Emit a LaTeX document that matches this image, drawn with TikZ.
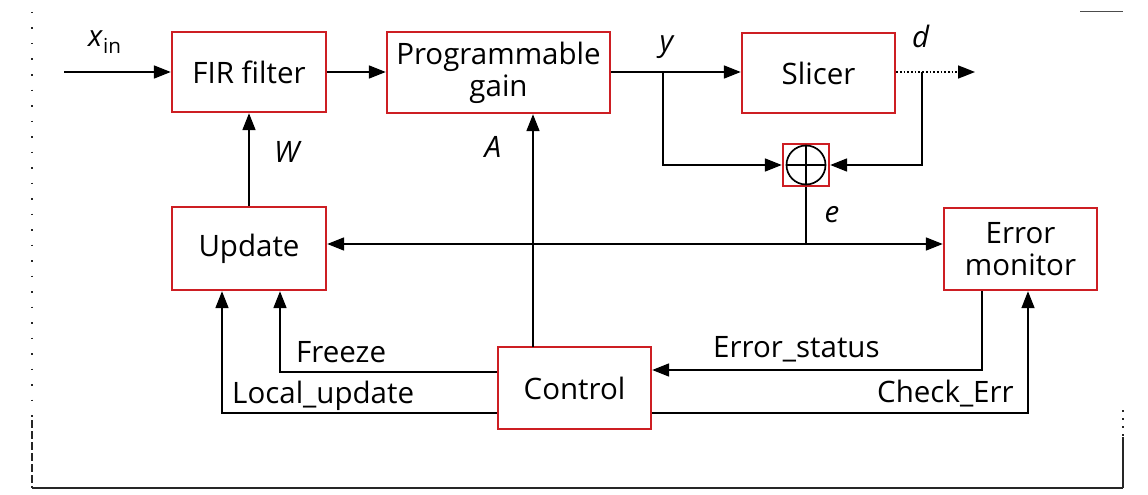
\documentclass[tikz,border=0pt]{standalone}
\usepackage{fontspec}
\setmainfont{Open Sans}
\usetikzlibrary{arrows.meta}
\definecolor{boxred}{RGB}{205,30,35}
\begin{document}
\begin{tikzpicture}[x=1pt,y=-1pt,
  every node/.style={font=\fontsize{29.5}{32}\selectfont},
  blk/.style={draw=boxred, line width=2.4pt, align=center, inner sep=0pt},
  conn/.style={line width=1.7pt, black},
  arr/.style={conn, -{Triangle[length=17pt,width=13pt]}},
  lbl/.style={inner sep=0pt},
  framel/.style={line width=1.4pt, black!85}]
\useasboundingbox (0,0) rectangle (1148,495);
% frame of the scan
\draw[framel] (32,488) -- (1123,488);
\draw[framel, dash pattern=on 1.5pt off 14pt] (32,12) -- (32,420);
\draw[framel, dash pattern=on 8pt off 3pt] (32,420) -- (32,488);
\draw[framel, dash pattern=on 2pt off 6pt] (1123,410) -- (1123,437);
\draw[framel] (1123,437) -- (1123,488);
\draw[line width=1pt, black!70] (1080,12) -- (1123,12);
% blocks
\node[blk, minimum width=154pt, minimum height=80pt] (fir) at (249,72) {FIR filter};
\node[blk, minimum width=223pt, minimum height=81pt] (prog) at (498.5,72.5) {Programmable\\gain};
\node[blk, minimum width=153pt, minimum height=80pt] (slc) at (818.5,73) {Slicer};
\node[blk, minimum width=46pt, minimum height=42pt] (sum) at (806,165) {};
\draw[conn] (sum.center) circle (19.5pt);
\draw[conn] ([xshift=-19.5pt]sum.center) -- ([xshift=19.5pt]sum.center);
\draw[conn] ([yshift=-19.5pt]sum.center) -- ([yshift=19.5pt]sum.center);
\node[blk, minimum width=154pt, minimum height=83pt] (upd) at (249,248.5) {Update};
\node[blk, minimum width=153pt, minimum height=82pt] (ctrl) at (574.5,388) {Control};
\node[blk, minimum width=153pt, minimum height=82pt] (err) at (1020.5,249) {Error\\monitor};
% coordinates
\coordinate (xin) at (64,72);
\coordinate (ybr) at (663,72);
\coordinate (dout) at (975,72);
\coordinate (dbr) at (922,72);
\coordinate (ej) at (806,244);
\coordinate (a0) at (533,347);
\coordinate (fz) at (280,372);
\coordinate (lu) at (222,413);
\coordinate (es) at (982,370);
\coordinate (ce) at (1028,413);
% connectors
\draw[arr] (xin) -- (xin -| fir.west);
\draw[arr] (xin -| fir.east) -- (xin -| prog.west);
\draw[arr] (xin -| prog.east) -- (xin -| slc.west);
\draw[arr] (ybr) |- (sum.west);
\draw[arr, dotted] (xin -| slc.east) -- (dout);
\draw[arr] (dbr) |- (sum.east);
\draw[conn] (sum.south) -- (ej);
\draw[arr] (ej) -- (ej -| err.west);
\draw[arr] (ej) -- (ej -| upd.east);
\draw[arr] (upd.north) -- (fir.south);
\draw[arr] (a0) -- (a0 |- prog.south);
\draw[arr] (fz -| ctrl.west) -- (fz) -- (fz |- upd.south);
\draw[arr] (lu -| ctrl.west) -- (lu) -- (lu |- upd.south);
\draw[arr] (es |- err.south) -- (es) -- (es -| ctrl.east);
\draw[arr] (ce -| ctrl.east) -- (ce) -- (ce |- err.south);
% labels
\node[lbl, anchor=base west] (lxin) at (88,47) {\textit{x}\textsubscript{in}};
\node[lbl, anchor=base] (ly) at (667,52) {\textit{y}};
\node[lbl, anchor=base] (ld) at (921,48) {\textit{d}};
\node[lbl, anchor=base] (lw) at (288,162) {\textit{W}};
\node[lbl, anchor=base] (la) at (493,157) {\textit{A}};
\node[lbl, anchor=base] (le) at (832,222) {\textit{e}};
\node[lbl, anchor=base west] (lfz) at (296,362) {Freeze};
\node[lbl, anchor=base west] (llu) at (232,403) {Local\_update};
\node[lbl, anchor=base west] (les) at (713,357) {Error\_status};
\node[lbl, anchor=base west] (lce) at (877,402) {Check\_Err};
\end{tikzpicture}
\end{document}
